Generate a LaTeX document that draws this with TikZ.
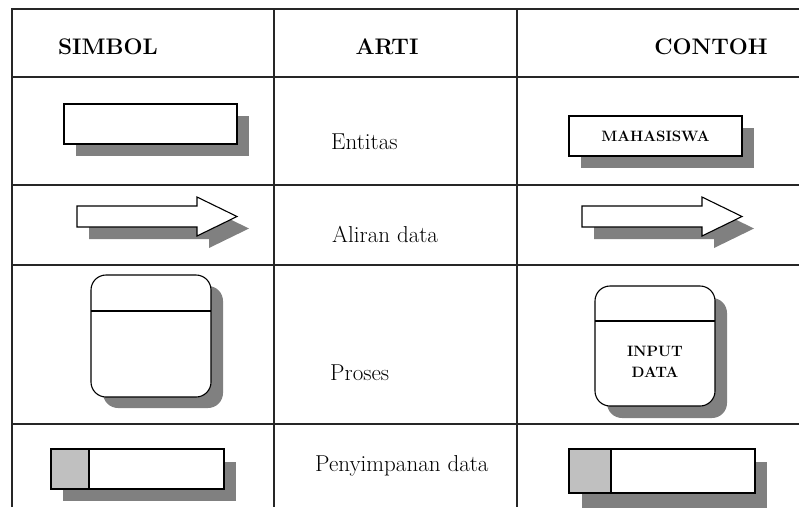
\documentclass[tikz,border=0pt]{standalone}
\usepackage{fontspec}
\usepackage{tikz}
\usepackage{xcolor}
\usetikzlibrary{positioning}
\definecolor{shadow_gray}{HTML}{808080}
\definecolor{store_gray}{HTML}{C0C0C0}

\begin{document}
\begin{tikzpicture}[x=1pt,y=-1pt,
    gridline/.style={line width=1.5pt, black!85},
    sym/.style={draw=black, line width=1.1pt, fill=white},
    shadowbox/.style={fill=shadow_gray},
    headtext/.style={font=\fontsize{22.5}{27}\selectfont\bfseries},
    artitext/.style={font=\fontsize{23}{28}\selectfont, anchor=base west, inner sep=0pt},
    inlabel/.style={font=\fontsize{15}{21}\selectfont\bfseries, align=center}]
        \useasboundingbox (0,0) rectangle (799,507);
        % Garis tabel
        \draw[gridline] (12,507) -- (12,9) -- (799,9);
        \foreach \x in {274,517} \draw[gridline] (\x,9) -- (\x,507);
        \foreach \y in {77,185,265,424} \draw[gridline] (12,\y) -- (799,\y);
        % Judul kolom
        \node[headtext] (simbol) at (108,47) {SIMBOL};
        \node[headtext] (arti) at (387,47) {ARTI};
        \node[headtext] (contoh) at (711,47) {CONTOH};
        % Kolom arti
        \node[artitext] (entitas) at (331,149) {Entitas};
        \node[artitext] (aliran) at (332,242) {Aliran data};
        \node[artitext] (proses) at (330,380) {Proses};
        \node[artitext] (simpan) at (315,471) {Penyimpanan data};
        % Entitas
        \foreach \x/\y in {64/104, 569/116} {
            \fill[shadowbox] (\x+12,\y+12) rectangle ++(173,40);
            \draw[sym] (\x,\y) rectangle ++(173,40);
        }
        \node[inlabel] (mhs) at (655.5,136) {MAHASISWA};
        % Aliran data
        \foreach \x in {77,582} {
            \fill[shadowbox] (\x+12,218) -- ++(120,0) -- ++(0,-9) -- ++(40,19.5)
                -- ++(-40,19.5) -- ++(0,-9) -- ++(-120,0) -- cycle;
            \draw[sym] (\x,206) -- ++(120,0) -- ++(0,-9) -- ++(40,19.5)
                -- ++(-40,19.5) -- ++(0,-9) -- ++(-120,0) -- cycle;
        }
        % Proses
        \fill[shadowbox, rounded corners=15pt] (103,286) rectangle (223,408);
        \draw[sym, rounded corners=15pt] (91,275) rectangle (211,397);
        \draw[sym] (91,311) -- (211,311);
        \fill[shadowbox, rounded corners=15pt] (607,298) rectangle (727,418);
        \draw[sym, rounded corners=15pt] (595,286) rectangle (715,406);
        \draw[sym] (595,321) -- (715,321);
        \node[inlabel] (input) at (655,362) {INPUT\\DATA};
        % Penyimpanan data
        \fill[shadowbox] (63,462) rectangle (236,501);
        \draw[sym] (51,449) rectangle (224,489);
        \draw[sym, fill=store_gray] (51,449) rectangle (89,489);
        \fill[shadowbox] (582,462) rectangle (767,510);
        \draw[sym] (569,449) rectangle (755,493);
        \draw[sym, fill=store_gray] (569,449) rectangle (611,493);
    \end{tikzpicture}
\end{document}
